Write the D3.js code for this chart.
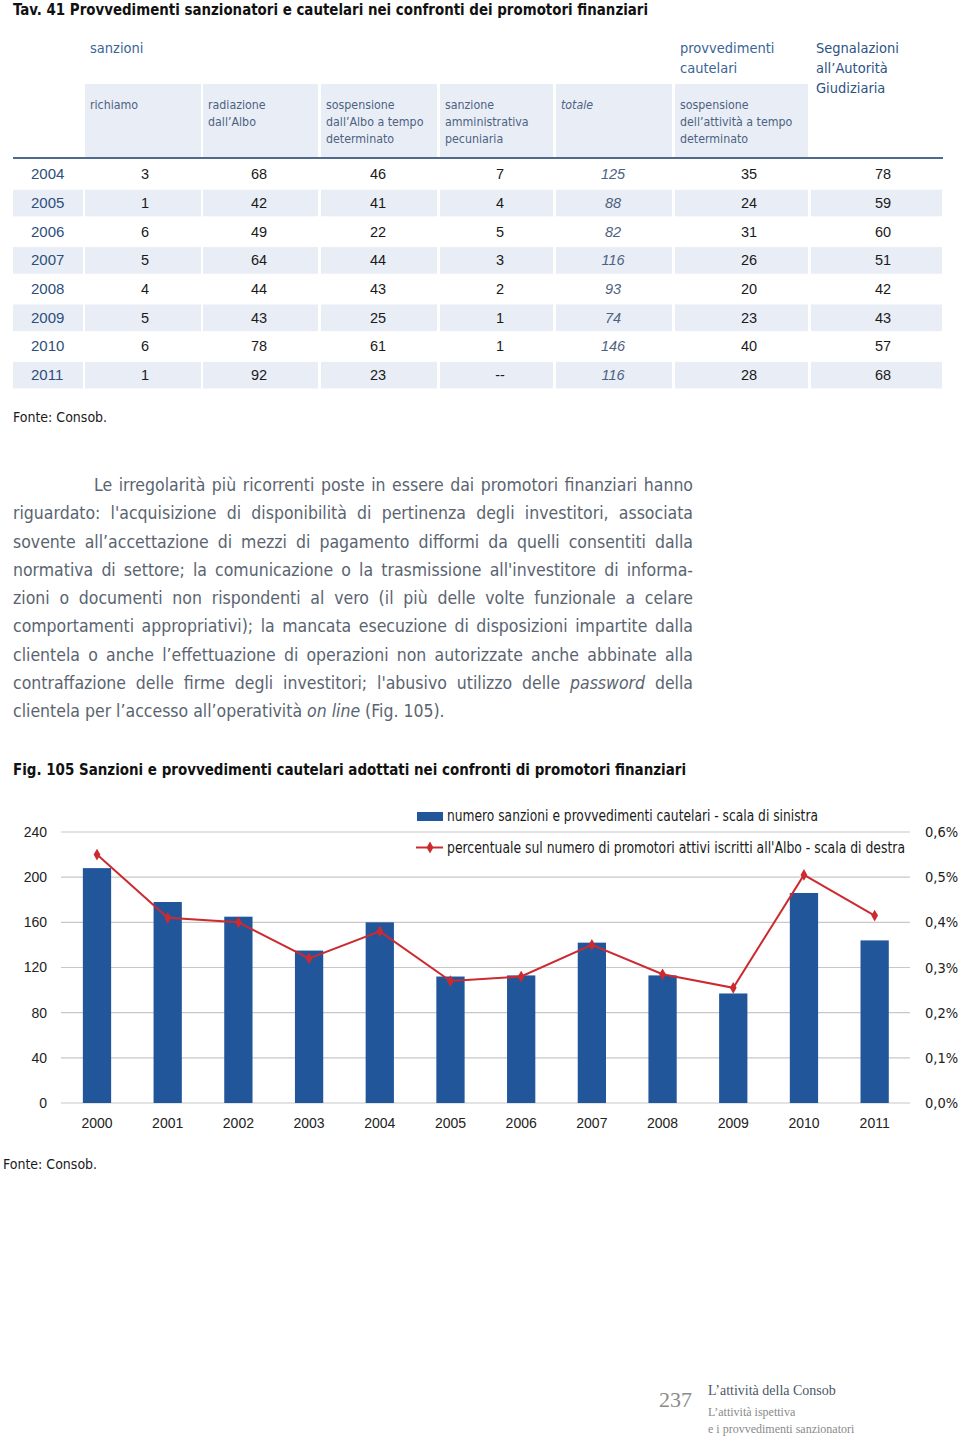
<!DOCTYPE html>
<html><head><meta charset="utf-8">
<script src="https://cdn.jsdelivr.net/npm/d3@7"></script>
<style>
body{margin:0;background:#fff;width:960px;height:1438px;position:relative;overflow:hidden;}
svg{position:absolute;left:0;top:0;}
.para{position:absolute;left:13px;width:680px;font-family:"Liberation Sans Narrow","DejaVu Sans Condensed",sans-serif;font-size:17.5px;color:#5a6470;}
.para div{height:28.3px;line-height:28.3px;white-space:nowrap;}
.para div.j{text-align:justify;text-align-last:justify;white-space:normal;}
</style></head>
<body>
<svg id="chart" width="960" height="1438"></svg>
<div class="para" id="para" style="top:471px"></div>
<script>
// ---------- Table data ----------
const tableYears = ["2004","2005","2006","2007","2008","2009","2010","2011"];
const richiamo   = [3,1,6,5,4,5,6,1];
const radiazione = [68,42,49,64,44,43,78,92];
const sospAlbo   = [46,41,22,44,43,25,61,23];
const sanzPec    = [7,4,5,3,2,1,1,null];
const totale     = [125,88,82,116,93,74,146,116];
const sospAtt    = [35,24,31,26,20,23,40,28];
const segnal     = [78,59,60,51,42,43,57,68];
const subHeaders = [
  ["richiamo"],
  ["radiazione","dall’Albo"],
  ["sospensione","dall’Albo a tempo","determinato"],
  ["sanzione","amministrativa","pecuniaria"],
  ["totale"],
  ["sospensione","dell’attività a tempo","determinato"]
];
const groupHeaders = [
  {lines:["sanzioni"], col:1},
  {lines:["provvedimenti","cautelari"], col:6},
  {lines:["Segnalazioni","all’Autorità","Giudiziaria"], col:7}
];

// ---------- Chart data ----------
const chartYears = ["2000","2001","2002","2003","2004","2005","2006","2007","2008","2009","2010","2011"];
const counts = [208,178,165,135,160,112,113,142,113,97,186,144];
const pctVals = [0.55,0.41,0.40,0.32,0.38,0.27,0.28,0.35,0.285,0.255,0.505,0.415];
const leftTicks = [0,40,80,120,160,200,240];
const rightTicks = [0,0.1,0.2,0.3,0.4,0.5,0.6];
const legendLabels = ["numero sanzioni e provvedimenti cautelari - scala di sinistra",
  "percentuale sul numero di promotori attivi iscritti all'Albo - scala di destra"];

const paraLines = [
  "Le irregolarità più ricorrenti poste in essere dai promotori finanziari hanno",
  "riguardato: l'acquisizione di disponibilità di pertinenza degli investitori, associata",
  "sovente all’accettazione di mezzi di pagamento difformi da quelli consentiti dalla",
  "normativa di settore; la comunicazione o la trasmissione all'investitore di informa-",
  "zioni o documenti non rispondenti al vero (il più delle volte funzionale a celare",
  "comportamenti appropriativi); la mancata esecuzione di disposizioni impartite dalla",
  "clientela o anche l’effettuazione di operazioni non autorizzate anche abbinate alla",
  "contraffazione delle firme degli investitori; l'abusivo utilizzo delle <i>password</i> della",
  "clientela per l’accesso all’operatività <i>on line</i> (Fig. 105)."
];

const NARROW = '"Liberation Sans Narrow","DejaVu Sans Condensed",sans-serif';
const SANS = '"Liberation Sans",Arial,sans-serif';
const SERIF = '"Liberation Serif","DejaVu Serif",serif';
const svg = d3.select("#chart");

// ---------- Title ----------
svg.append("text").attr("x",13).attr("y",15)
  .attr("font-family",NARROW).attr("font-weight","bold").attr("font-size",16.5)
  .attr("textLength",635).attr("lengthAdjust","spacingAndGlyphs")
  .attr("fill","#111").text("Tav. 41 Provvedimenti sanzionatori e cautelari nei confronti dei promotori finanziari");

// ---------- Table ----------
const cols = [
  {x0:13,x1:83,tx:31},
  {x0:85,x1:201,tx:145},
  {x0:203,x1:318,tx:259},
  {x0:321,x1:437,tx:378},
  {x0:440,x1:553,tx:500},
  {x0:556,x1:672,tx:613},
  {x0:675,x1:808,tx:749},
  {x0:811,x1:942,tx:883}
];
const BG = "#e9eef6";
const tbl = svg.append("g");
cols.slice(1,7).forEach((c,i)=>{
  tbl.append("rect").attr("x",c.x0).attr("y",84).attr("width",c.x1-c.x0).attr("height",73).attr("fill",BG);
  const t = tbl.append("text").attr("font-family",NARROW).attr("font-size",12.3)
    .attr("fill","#4d6282").attr("font-style", i===4?"italic":null);
  subHeaders[i].forEach((l,k)=>t.append("tspan").attr("x",c.x0+5).attr("y",109+k*17).text(l));
});
groupHeaders.forEach(g=>{
  const c = cols[g.col];
  const t = tbl.append("text").attr("font-family",NARROW).attr("font-size",14.5)
    .attr("fill", g.col===7 ? "#2d5383" : "#3a6596");
  g.lines.forEach((l,k)=>t.append("tspan").attr("x",c.x0+5).attr("y",53+k*20).text(l));
});
tbl.append("rect").attr("x",13).attr("y",157).attr("width",930).attr("height",2).attr("fill","#4f6b8c");

const rowY = d3.scaleBand().domain(tableYears).range([160,389.5]);
const valueCols = [richiamo,radiazione,sospAlbo,sanzPec,totale,sospAtt,segnal];
tableYears.forEach((yr,r)=>{
  const y0 = rowY(yr), h = rowY.bandwidth();
  if (r%2===1) cols.forEach(c=>tbl.append("rect").attr("x",c.x0).attr("y",y0+1).attr("width",c.x1-c.x0).attr("height",h-2).attr("fill",BG));
  const cy = y0 + h/2 + 5;
  tbl.append("text").attr("x",cols[0].tx).attr("y",cy).attr("font-family",SANS).attr("font-size",15)
    .attr("fill","#2d4f7c").text(yr);
  valueCols.forEach((arr,k)=>{
    const v = arr[r];
    tbl.append("text").attr("x",cols[k+1].tx).attr("y",cy).attr("text-anchor","middle")
      .attr("font-family",SANS).attr("font-size",14.5)
      .attr("font-style",k===4?"italic":null)
      .attr("fill",k===4?"#4d6282":"#1a1a1a")
      .text(v===null?"--":v);
  });
});
svg.append("text").attr("x",13).attr("y",422).attr("font-family",NARROW).attr("font-size",14)
  .attr("fill","#1a1a1a").text("Fonte: Consob.");

// ---------- Paragraph ----------
const para = d3.select("#para");
paraLines.forEach((l,i)=>{
  const d = para.append("div").html(l);
  if (i < paraLines.length-1) d.attr("class","j");
  if (i===0) d.style("padding-left","81px");
});

// ---------- Figure title ----------
svg.append("text").attr("x",13).attr("y",775)
  .attr("font-family",NARROW).attr("font-weight","bold").attr("font-size",16.5)
  .attr("textLength",673).attr("lengthAdjust","spacingAndGlyphs")
  .attr("fill","#111").text("Fig. 105 Sanzioni e provvedimenti cautelari adottati nei confronti di promotori finanziari");

// ---------- Chart ----------
const x = d3.scaleBand().domain(chartYears).range([61.65,910]).paddingInner(0.6).paddingOuter(0.3);
const y = d3.scaleLinear().domain([0,240]).range([1103,832]);
const y2 = d3.scaleLinear().domain([0,0.6]).range([1103,832]);
const ch = svg.append("g");

ch.append("g").selectAll("line").data(leftTicks).join("line")
  .attr("x1",61).attr("x2",910).attr("y1",d=>y(d)).attr("y2",d=>y(d))
  .attr("stroke","#c8c8c8").attr("stroke-width",1.2);

const axL = ch.append("g").attr("transform","translate(61,0)")
  .call(d3.axisLeft(y).tickValues(leftTicks).tickSize(0).tickPadding(14));
const axR = ch.append("g").attr("transform","translate(910,0)")
  .call(d3.axisRight(y2).tickValues(rightTicks).tickSize(0).tickPadding(15)
    .tickFormat(d=>d3.format(".1f")(d).replace(".",",")+"%"));
const axB = ch.append("g").attr("transform","translate(0,1103)")
  .call(d3.axisBottom(x).tickSize(0).tickPadding(15));
[axL,axR,axB].forEach(a=>{
  a.select(".domain").remove();
  a.selectAll("text").attr("font-family",SANS).attr("font-size",14).attr("fill","#222");
});
axR.selectAll("text").attr("font-family",NARROW).attr("font-size",14.5);

ch.append("g").selectAll("rect").data(chartYears).join("rect")
  .attr("x",d=>x(d)).attr("width",x.bandwidth())
  .attr("y",(d,i)=>y(counts[i])).attr("height",(d,i)=>y(0)-y(counts[i]))
  .attr("fill","#22569b");

const RED = "#cc2a31";
const line = d3.line().x(d=>x(d.year)+x.bandwidth()/2).y(d=>y2(d.v));
const pts = chartYears.map((yr,i)=>({year:yr,v:pctVals[i]}));
ch.append("path").datum(pts).attr("d",line).attr("fill","none").attr("stroke",RED).attr("stroke-width",2);
const diamond = d3.symbol().type(d3.symbolDiamond).size(40);
ch.append("g").selectAll("path").data(pts).join("path")
  .attr("d",diamond).attr("transform",d=>`translate(${x(d.year)+x.bandwidth()/2},${y2(d.v)})`)
  .attr("fill",RED);

// legend
const lg = ch.append("g");
lg.append("rect").attr("x",417).attr("y",812).attr("width",26).attr("height",9).attr("fill","#22569b");
lg.append("line").attr("x1",416).attr("x2",443).attr("y1",847.5).attr("y2",847.5).attr("stroke",RED).attr("stroke-width",2);
lg.append("path").attr("d",diamond).attr("transform","translate(430,847.5)").attr("fill",RED);
const legendWidths = [371,458];
legendLabels.forEach((t,i)=>lg.append("text").attr("x",447).attr("y",821+i*31.5)
  .attr("font-family",NARROW).attr("font-size",15).attr("fill","#1a1a1a")
  .attr("textLength",legendWidths[i]).attr("lengthAdjust","spacingAndGlyphs").text(t));

svg.append("text").attr("x",3).attr("y",1169).attr("font-family",NARROW).attr("font-size",14)
  .attr("fill","#1a1a1a").text("Fonte: Consob.");

// ---------- Footer ----------
svg.append("text").attr("x",659).attr("y",1407).attr("font-family",SERIF).attr("font-size",22)
  .attr("fill","#8a8a8a").text("237");
svg.append("text").attr("x",708).attr("y",1395).attr("font-family",SERIF).attr("font-size",14)
  .attr("fill","#4a5868").text("L’attività della Consob");
svg.append("text").attr("x",708).attr("y",1416).attr("font-family",SERIF).attr("font-size",12)
  .attr("fill","#8a8a8a").text("L’attività ispettiva");
svg.append("text").attr("x",708).attr("y",1433).attr("font-family",SERIF).attr("font-size",12)
  .attr("fill","#8a8a8a").text("e i provvedimenti sanzionatori");
</script>
</body></html>
